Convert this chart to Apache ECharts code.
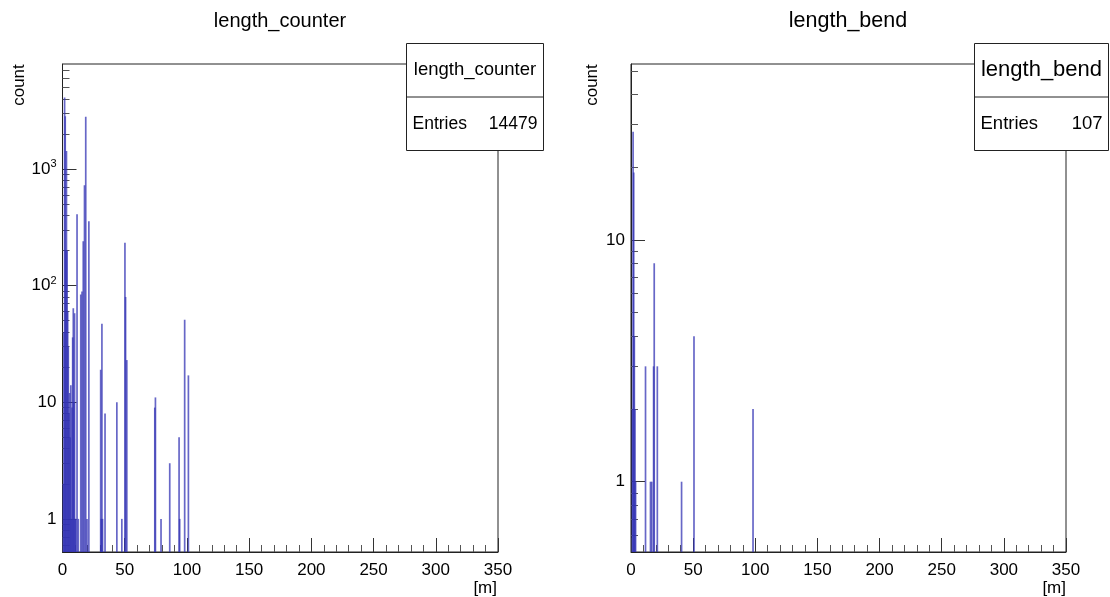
<!DOCTYPE html>
<html><head><meta charset="utf-8">
<script src="https://cdn.jsdelivr.net/npm/echarts@6/dist/echarts.min.js"></script>
<style>html,body{margin:0;padding:0;background:#fff}#c{width:1110px;height:597px}</style>
</head><body><div id="c"></div>
<script>
// ---- data ----
const binWidth = 0.5;
const counterBinLow = [0.0,0.5,1.0,1.5,2.0,2.5,3.0,3.5,4.0,4.5,5.0,5.5,6.0,6.5,7.0,7.5,8.0,8.5,9.0,9.5,10.0,11.0,12.0,14.0,15.0,16.0,17.0,18.0,19.0,20.5,30.0,30.5,31.0,31.5,33.5,43.0,47.0,49.5,50.0,51.0,73.5,74.0,78.5,85.5,93.0,93.5,97.5,100.5];
const counterCounts = [2,40,4100,2830,200,1430,200,60,30,8,12,5,14,1,9,36,64,10,58,1,1,410,1,84,89,240,725,2800,1,357,19,1,47,1,8,10,1,233,80,23,9,11,1,3,5,1,51,17];
const bendBinLow = [0.5,1.0,1.5,2.0,2.5,3.0,11.0,15.0,16.0,17.5,18.0,20.5,40.0,50.0,97.5];
const bendCounts = [2,28,19,4,2,1,3,1,1,3,8,3,1,4,2];
const xTickValues = [0,50,100,150,200,250,300,350];
const counterMajorTicks = [1,10,100,1000];
const counterMinorTicks = [0.6,0.7,0.8,0.9,2,3,4,5,6,7,8,9,20,30,40,50,60,70,80,90,200,300,400,500,600,700,800,900,2000,3000,4000,5000,6000,7000];
const bendMajorTicks = [1,10];
const bendMinorTicks = [0.6,0.7,0.8,0.9,2,3,4,5,6,7,8,9,20,30,40,50];
const histTitles = ['length_counter','length_bend'];
const histEntries = [14479,107];
const xUnit = '[m]';
const yTitle = 'count';
const counterRange = [0.52, 7950];
const bendRange = [0.512, 53.4];
const xRange = [0, 350];

// ---- helpers ----
const FONT = '"Liberation Sans", Arial, Helvetica, sans-serif';
const BLUE = 'rgb(52,52,180)';
const AX = '#222';

function renderBin(params, api) {
  const x = api.value(0), y = api.value(1);
  const p0 = api.coord([x, y]);
  const p1 = api.coord([x + binWidth, y]);
  const cs = params.coordSys;
  const bottom = cs.y + cs.height;
  const w = Math.max(p1[0] - p0[0], 1.7);
  return {
    type: 'rect',
    shape: { x: p0[0], y: p0[1], width: w, height: bottom - p0[1] },
    style: { fill: api.visual('color'), opacity: 0.75 }
  };
}
function supFmt(v) {
  const e = Math.round(Math.log10(v));
  if (e === 0) return '1';
  if (e === 1) return '10';
  return '10{sup|' + e + '}';
}
function xAxisCfg(gi) {
  return {
    type: 'value', gridIndex: gi, min: xRange[0], max: xRange[1], interval: 50,
    axisLine: { show: true, lineStyle: { color: AX, width: 1 } },
    axisTick: { show: true, inside: true, length: 14, lineStyle: { color: '#333' } },
    minorTick: { show: true, splitNumber: 5, length: 7, lineStyle: { color: '#555' } },
    axisLabel: { color: '#000', fontSize: 17, fontFamily: FONT, margin: 10,
      customValues: xTickValues },
    splitLine: { show: false }, minorSplitLine: { show: false }
  };
}
function yAxisMajor(gi, range, ticks) {
  return {
    type: 'log', logBase: 10, gridIndex: gi, position: 'left', min: range[0], max: range[1],
    axisLine: { show: true, lineStyle: { color: AX, width: 1 } },
    axisTick: { show: true, inside: true, length: 14, lineStyle: { color: '#333' }, customValues: ticks },
    axisLabel: { color: '#000', fontSize: 17, fontFamily: FONT, margin: 6, customValues: ticks,
      formatter: supFmt,
      rich: { sup: { fontSize: 11, fontFamily: FONT, color: '#000', verticalAlign: 'top', padding: [0,0,10,0] } } },
    splitLine: { show: false }
  };
}
function yAxisMinor(gi, range, ticks) {
  return {
    type: 'log', logBase: 10, gridIndex: gi, position: 'left', min: range[0], max: range[1],
    axisLine: { show: false },
    axisTick: { show: true, inside: true, length: 7, lineStyle: { color: '#555' }, customValues: ticks },
    axisLabel: { show: false },
    splitLine: { show: false }
  };
}
function txt(x, y, s, size, align, rot) {
  return { type: 'text', x: x, y: y, rotation: rot || 0, z: 110,
    style: { text: s, fill: '#000', font: size + 'px ' + FONT, textAlign: align || 'center', textVerticalAlign: 'middle' } };
}
function statBox(x, y, w, h, divY, title, titleSize, entries, entSize) {
  return [
    { type: 'rect', z: 100, shape: { x: x, y: y, width: w, height: h },
      style: { fill: '#fff', stroke: AX, lineWidth: 1 } },
    { type: 'line', z: 101, shape: { x1: x, y1: divY, x2: x + w, y2: divY }, style: { stroke: AX, lineWidth: 1 } },
    txt(x + w / 2, (y + divY) / 2, title, titleSize, 'center'),
    txt(x + 6, (divY + y + h) / 2, 'Entries', entSize, 'left'),
    txt(x + w - 6, (divY + y + h) / 2, String(entries), entSize, 'right')
  ];
}

const chart = echarts.init(document.getElementById('c'), null, { renderer: 'canvas' });
const gridBase = { show: true, borderColor: AX, borderWidth: 1, backgroundColor: 'transparent', containLabel: false, outerBoundsMode: 'none' };
chart.setOption({
  animation: false,
  backgroundColor: '#fff',
  grid: [
    Object.assign({ left: 62.5, top: 64, width: 435.5, height: 488 }, gridBase),
    Object.assign({ left: 631, top: 64, width: 435, height: 488 }, gridBase)
  ],
  xAxis: [xAxisCfg(0), xAxisCfg(1)],
  yAxis: [
    yAxisMajor(0, counterRange, counterMajorTicks),
    yAxisMinor(0, counterRange, counterMinorTicks),
    yAxisMajor(1, bendRange, bendMajorTicks),
    yAxisMinor(1, bendRange, bendMinorTicks)
  ],
  series: [
    { type: 'custom', name: histTitles[0], xAxisIndex: 0, yAxisIndex: 0, clip: true, renderItem: renderBin,
      itemStyle: { color: BLUE }, encode: { x: 0, y: 1 },
      data: counterBinLow.map((v, i) => [v, counterCounts[i]]) },
    { type: 'custom', name: histTitles[1], xAxisIndex: 1, yAxisIndex: 2, clip: true, renderItem: renderBin,
      itemStyle: { color: BLUE }, encode: { x: 0, y: 1 },
      data: bendBinLow.map((v, i) => [v, bendCounts[i]]) }
  ],
  graphic: [
    txt(280, 21, histTitles[0], 20, 'center'),
    txt(848, 21, histTitles[1], 21.5, 'center'),
    txt(19, 85, yTitle, 17, 'center', Math.PI / 2),
    txt(592, 85, yTitle, 17, 'center', Math.PI / 2),
    txt(497, 588, xUnit, 17, 'right'),
    txt(1066, 588, xUnit, 17, 'right'),
    ...statBox(406.5, 43.5, 137, 107, 97, histTitles[0], 18.5, histEntries[0], 17.5),
    ...statBox(974.5, 43.5, 134, 107, 97, histTitles[1], 22, histEntries[1], 18.5)
  ]
});
</script>
</body></html>
